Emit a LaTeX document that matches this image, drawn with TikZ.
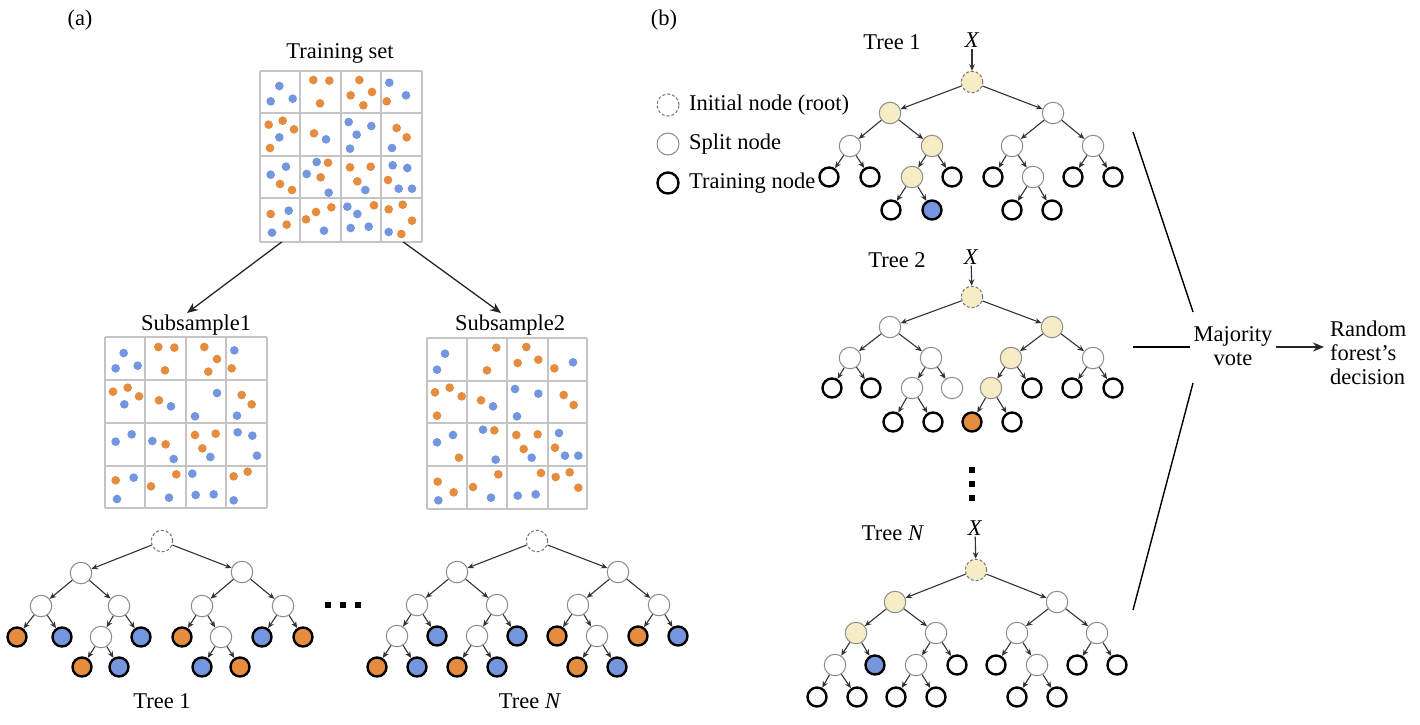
\documentclass[tikz,border=0pt]{standalone}
\usepackage{fontspec}
\setmainfont{Liberation Serif}
\usetikzlibrary{arrows.meta}
\definecolor{blu}{RGB}{116,150,222}
\definecolor{orn}{RGB}{229,140,62}
\definecolor{yel}{RGB}{246,236,197}
\definecolor{gridc}{RGB}{196,196,196}
\definecolor{splitc}{RGB}{140,140,140}
\begin{document}
\begin{tikzpicture}[x=1pt,y=-1pt, font=\fontsize{22.5}{24}\selectfont,
 splitn/.style={circle,draw=splitc,line width=1pt,fill=white,minimum size=21.5pt,inner sep=0pt},
 rootn/.style={splitn,dash pattern=on 3pt off 2pt,draw=black!55},
 ysplit/.style={splitn,fill=yel},
 yroot/.style={rootn,fill=yel},
 trainn/.style={circle,draw=black,line width=2.4pt,fill=white,minimum size=19pt,inner sep=0pt},
 leafo/.style={trainn,fill=orn},
 leafb/.style={trainn,fill=blu},
 tedge/.style={draw=black!80,line width=1.1pt,-{Stealth[length=6.5pt,width=5.5pt]}},
 bigarr/.style={draw=black!85,line width=1.3pt,-{Stealth[length=11pt,width=9pt]}},
 gline/.style={draw=gridc,line width=1.7pt},
 vline/.style={draw=black,line width=1.4pt},
 lbl/.style={inner sep=1pt}]
\useasboundingbox (0,0) rectangle (1420,724);
\fill[white] (0,0) rectangle (1420,724);

% ---------- panel labels
\node[lbl] (pa) at (80,20) {(a)};
\node[lbl] (pb) at (664,20) {(b)};

% ---------- training set grid
\node[lbl] (TS) at (340,53) {Training set};
\begin{scope}[shift={(250,30)},scale=1/3]
\foreach \x in {30,150,272,393,515} \draw[gline] (\x,122) -- (\x,635);
\foreach \y in {122,250,378,505,635} \draw[gline] (30,\y) -- (515,\y);
\foreach \x/\y in {88/168,62/214,128/206,418/158,468/196,88/322,228/328,296/276,364/288,320/314,300/356,426/354,108/410,62/434,200/396,170/432,236/488,346/480,428/406,472/414,446/476,486/476,116/542,66/608,222/602,292/530,322/552,302/594,356/590,416/606}
  \fill[blu] (\x,\y) circle[radius=13];
\foreach \x/\y in {190/150,238/152,210/220,328/150,302/196,366/186,340/226,410/214,56/284,98/272,132/298,60/354,192/310,440/294,470/322,90/462,126/480,234/398,212/442,300/412,362/410,322/454,414/450,62/552,110/584,244/532,198/546,168/568,372/526,458/524,416/538,486/572,454/612}
  \fill[orn] (\x,\y) circle[radius=13];
\coordinate (g1) at (95,636);
\coordinate (g2) at (460,636);
\end{scope}

% ---------- subsample 1
\node[lbl] (S1) at (196,325) {Subsample1};
\begin{scope}[shift={(95,315)},scale=1/3]
\foreach \x in {30,150,272,393,515} \draw[gline] (\x,65) -- (\x,580);
\foreach \y in {65,195,325,453,580} \draw[gline] (30,\y) -- (515,\y);
\foreach \x/\y in {86/114,62/160,128/152,418/106,88/268,228/274,366/234,300/304,426/302,110/358,62/380,172/378,236/432,346/426,428/352,472/362,486/422,116/488,66/552,222/548,292/476,302/540,356/538,416/556}
  \fill[blu] (\x,\y) circle[radius=13];
\foreach \x/\y in {190/96,238/98,210/166,328/96,366/132,340/170,410/160,54/230,98/218,132/244,192/256,440/240,470/268,212/388,300/360,362/356,322/400,62/496,244/478,168/514,458/470,416/484}
  \fill[orn] (\x,\y) circle[radius=13];
\end{scope}

% ---------- subsample 2
\node[lbl] (S2) at (510,325) {Subsample2};
\begin{scope}[shift={(415,315)},scale=1/3]
\foreach \x in {35,157,277,398,517} \draw[gline] (\x,68) -- (\x,582);
\foreach \y in {68,197,325,453,582} \draw[gline] (35,\y) -- (517,\y);
\foreach \x/\y in {90/116,66/164,474/142,234/274,300/222,370/236,306/304,66/382,114/360,204/344,242/434,350/428,432/354,450/422,490/422,70/556,228/548,308/542,362/538}
  \fill[blu] (\x,\y) circle[radius=13];
\foreach \x/\y in {244/98,216/166,334/96,308/144,370/134,418/160,60/232,104/218,140/244,66/302,198/256,446/240,476/270,132/428,238/346,304/360,368/358,326/402,420/398,68/500,116/532,250/478,174/516,378/474,422/486,464/472,490/518}
  \fill[orn] (\x,\y) circle[radius=13];
\end{scope}

\coordinate (s1t) at (187,313);
\coordinate (s2t) at (501,313);
\draw[bigarr] (g1) -- (s1t);
\draw[bigarr] (g2) -- (s2t);

% ---------- tree 1 (a)
\node[rootn] (A1) at (162,541) {};
\node[splitn] (A1L) at (81,573) {};
\node[splitn] (A1R) at (242,572) {};
\node[splitn] (A1LL) at (41,606) {};
\node[splitn] (A1LR) at (119,606) {};
\node[splitn] (A1RL) at (202,606) {};
\node[splitn] (A1RR) at (283,606) {};
\node[leafo] (A1LLL) at (17,637) {};
\node[leafb] (A1LLR) at (62,637) {};
\node[splitn] (A1LRL) at (101,637) {};
\node[leafb] (A1LRR) at (141,637) {};
\node[leafo] (A1RLL) at (182,637) {};
\node[splitn] (A1RLR) at (221,637) {};
\node[leafb] (A1RRL) at (262,637) {};
\node[leafo] (A1RRR) at (303,637) {};
\node[leafo] (A1LRLL) at (82,667) {};
\node[leafb] (A1LRLR) at (119,667) {};
\node[leafb] (A1RLRL) at (202,667) {};
\node[leafo] (A1RLRR) at (240,667) {};
\foreach \p/\c in {A1/A1L,A1/A1R,A1L/A1LL,A1L/A1LR,A1R/A1RL,A1R/A1RR,A1LL/A1LLL,A1LL/A1LLR,A1LR/A1LRL,A1LR/A1LRR,A1RL/A1RLL,A1RL/A1RLR,A1RR/A1RRL,A1RR/A1RRR,A1LRL/A1LRLL,A1LRL/A1LRLR,A1RLR/A1RLRL,A1RLR/A1RLRR}
  \draw[tedge] (\p) -- (\c);
\node[lbl] (T1a) at (162,701) {Tree 1};

% horizontal dots
\foreach \x in {328,343,358} \fill[black] (\x-3,602) rectangle (\x+3,608);

% ---------- tree N (a)
\node[rootn] (A2) at (537,541) {};
\node[splitn] (A2L) at (457,572) {};
\node[splitn] (A2R) at (618,572) {};
\node[splitn] (A2LL) at (417,605) {};
\node[splitn] (A2LR) at (497,605) {};
\node[splitn] (A2RL) at (578,605) {};
\node[splitn] (A2RR) at (659,605) {};
\node[splitn] (A2LLL) at (397,636) {};
\node[leafb] (A2LLR) at (437,636) {};
\node[splitn] (A2LRL) at (477,636) {};
\node[leafb] (A2LRR) at (517,636) {};
\node[leafo] (A2RLL) at (557,636) {};
\node[splitn] (A2RLR) at (597,636) {};
\node[leafo] (A2RRL) at (638,636) {};
\node[leafb] (A2RRR) at (678,636) {};
\node[leafo] (A2LLLL) at (377,667) {};
\node[leafb] (A2LLLR) at (417,667) {};
\node[leafo] (A2LRLL) at (457,667) {};
\node[leafb] (A2LRLR) at (497,667) {};
\node[leafo] (A2RLRL) at (577,667) {};
\node[leafb] (A2RLRR) at (617,667) {};
\foreach \p/\c in {A2/A2L,A2/A2R,A2L/A2LL,A2L/A2LR,A2R/A2RL,A2R/A2RR,A2LL/A2LLL,A2LL/A2LLR,A2LR/A2LRL,A2LR/A2LRR,A2RL/A2RLL,A2RL/A2RLR,A2RR/A2RRL,A2RR/A2RRR,A2LLL/A2LLLL,A2LLL/A2LLLR,A2LRL/A2LRLL,A2LRL/A2LRLR,A2RLR/A2RLRL,A2RLR/A2RLRR}
  \draw[tedge] (\p) -- (\c);
\node[lbl] (TNa) at (530,701) {Tree \textit{N}};

% ---------- legend (b)
\node[rootn,minimum size=22pt] (lg1) at (668,105) {};
\node[splitn,minimum size=22pt] (lg2) at (668,144) {};
\node[trainn,minimum size=21pt] (lg3) at (668,183) {};
\node[lbl,anchor=west] (lt1) at (688,105) {Initial node (root)};
\node[lbl,anchor=west] (lt2) at (688,144) {Split node};
\node[lbl,anchor=west] (lt3) at (688,183) {Training node};

% ---------- tree 1 (b)
\node[lbl] (T1b) at (892,42) {Tree 1};
\node[lbl] (X1) at (972,40) {\textit{X}};
\node[yroot] (B1) at (972,82) {};
\node[ysplit] (B1L) at (890,113) {};
\node[splitn] (B1R) at (1053,113) {};
\node[splitn] (B1LL) at (850,146) {};
\node[ysplit] (B1LR) at (932,146) {};
\node[splitn] (B1RL) at (1012,146) {};
\node[splitn] (B1RR) at (1093,146) {};
\node[trainn] (B1LLL) at (829,177) {};
\node[trainn] (B1LLR) at (870,177) {};
\node[ysplit] (B1LRL) at (912,177) {};
\node[trainn] (B1LRR) at (952,177) {};
\node[trainn] (B1RLL) at (993,177) {};
\node[splitn] (B1RLR) at (1033,177) {};
\node[trainn] (B1RRL) at (1073,177) {};
\node[trainn] (B1RRR) at (1113,177) {};
\node[trainn] (B1LRLL) at (891,210) {};
\node[leafb] (B1LRLR) at (932,210) {};
\node[trainn] (B1RLRL) at (1012,210) {};
\node[trainn] (B1RLRR) at (1052,210) {};
\foreach \p/\c in {X1/B1,B1/B1L,B1/B1R,B1L/B1LL,B1L/B1LR,B1R/B1RL,B1R/B1RR,B1LL/B1LLL,B1LL/B1LLR,B1LR/B1LRL,B1LR/B1LRR,B1RL/B1RLL,B1RL/B1RLR,B1RR/B1RRL,B1RR/B1RRR,B1LRL/B1LRLL,B1LRL/B1LRLR,B1RLR/B1RLRL,B1RLR/B1RLRR}
  \draw[tedge] (\p) -- (\c);

% ---------- tree 2 (b)
\node[lbl] (T2b) at (897,260) {Tree 2};
\node[lbl] (X2) at (971,257) {\textit{X}};
\node[yroot] (B2) at (972,297) {};
\node[splitn] (B2L) at (890,327) {};
\node[ysplit] (B2R) at (1052,327) {};
\node[splitn] (B2LL) at (850,358) {};
\node[splitn] (B2LR) at (931,358) {};
\node[ysplit] (B2RL) at (1011,358) {};
\node[splitn] (B2RR) at (1093,358) {};
\node[trainn] (B2LLL) at (832,388) {};
\node[trainn] (B2LLR) at (871,388) {};
\node[splitn] (B2LRL) at (912,388) {};
\node[splitn] (B2LRR) at (952,388) {};
\node[ysplit] (B2RLL) at (991,388) {};
\node[trainn] (B2RLR) at (1032,388) {};
\node[trainn] (B2RRL) at (1072,388) {};
\node[trainn] (B2RRR) at (1113,388) {};
\node[trainn] (B2LRLL) at (893,422) {};
\node[trainn] (B2LRLR) at (933,422) {};
\node[leafo] (B2RLLL) at (972,422) {};
\node[trainn] (B2RLLR) at (1012,422) {};
\foreach \p/\c in {X2/B2,B2/B2L,B2/B2R,B2L/B2LL,B2L/B2LR,B2R/B2RL,B2R/B2RR,B2LL/B2LLL,B2LL/B2LLR,B2LR/B2LRL,B2LR/B2LRR,B2RL/B2RLL,B2RL/B2RLR,B2RR/B2RRL,B2RR/B2RRR,B2LRL/B2LRLL,B2LRL/B2LRLR,B2RLL/B2RLLL,B2RLL/B2RLLR}
  \draw[tedge] (\p) -- (\c);

% vertical dots
\foreach \y in {470,484,498} \fill[black] (969,\y-3) rectangle (975,\y+3);

% ---------- tree N (b)
\node[lbl] (T3b) at (893,533) {Tree \textit{N}};
\node[lbl] (X3) at (975,528) {\textit{X}};
\node[yroot] (B3) at (976,570) {};
\node[ysplit] (B3L) at (895,602) {};
\node[splitn] (B3R) at (1057,602) {};
\node[ysplit] (B3LL) at (856,633) {};
\node[splitn] (B3LR) at (936,633) {};
\node[splitn] (B3RL) at (1017,633) {};
\node[splitn] (B3RR) at (1097,633) {};
\node[splitn] (B3LLL) at (835,665) {};
\node[leafb] (B3LLR) at (875,665) {};
\node[splitn] (B3LRL) at (916,665) {};
\node[trainn] (B3LRR) at (957,665) {};
\node[trainn] (B3RLL) at (996,665) {};
\node[splitn] (B3RLR) at (1037,665) {};
\node[trainn] (B3RRL) at (1077,665) {};
\node[trainn] (B3RRR) at (1117,665) {};
\node[trainn] (B3LLLL) at (817,697) {};
\node[trainn] (B3LLLR) at (857,697) {};
\node[trainn] (B3LRLL) at (896,697) {};
\node[trainn] (B3LRLR) at (936,697) {};
\node[trainn] (B3RLRL) at (1017,697) {};
\node[trainn] (B3RLRR) at (1057,697) {};
\foreach \p/\c in {X3/B3,B3/B3L,B3/B3R,B3L/B3LL,B3L/B3LR,B3R/B3RL,B3R/B3RR,B3LL/B3LLL,B3LL/B3LLR,B3LR/B3LRL,B3LR/B3LRR,B3RL/B3RLL,B3RL/B3RLR,B3RR/B3RRL,B3RR/B3RRR,B3LLL/B3LLLL,B3LLL/B3LLLR,B3LRL/B3LRLL,B3LRL/B3LRLR,B3RLR/B3RLRL,B3RLR/B3RLRR}
  \draw[tedge] (\p) -- (\c);

% ---------- majority vote
\node[lbl,align=center] (MV) at (1233,346) {Majority\\vote};
\node[lbl,align=left,anchor=west] (RF) at (1329,353) {Random\\forest’s\\decision};
\coordinate (t1) at (1133,132);
\coordinate (t2) at (1133,347);
\coordinate (t3) at (1133,610);
\coordinate (m1) at (1193,312);
\coordinate (m2) at (1190,347);
\coordinate (m3) at (1193,383);
\draw[vline] (t1) -- (m1);
\draw[vline] (t2) -- (m2);
\draw[vline] (t3) -- (m3);
\coordinate (ra) at (1276,347);
\coordinate (rb) at (1324,347);
\draw[bigarr,line width=1.3pt] (ra) -- (rb);
\end{tikzpicture}
\end{document}
